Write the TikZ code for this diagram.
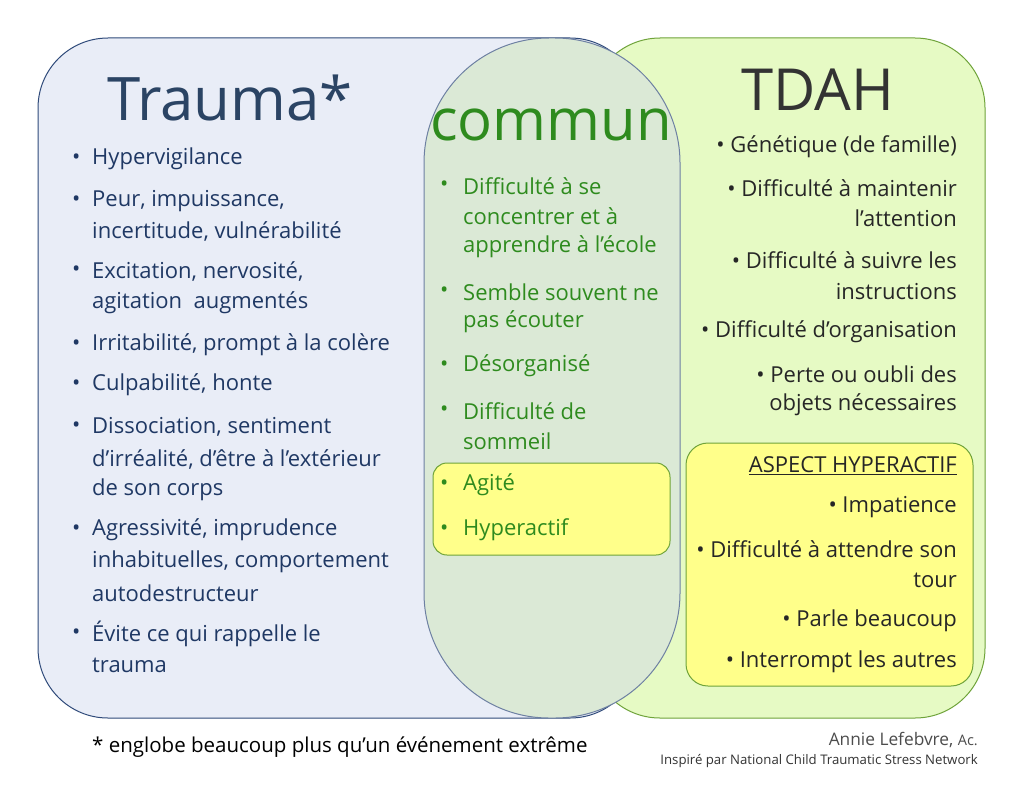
\documentclass[tikz,border=0pt]{standalone}
\usepackage{fontspec}
\setmainfont{Open Sans}
\definecolor{lbox}{HTML}{E9EDF7}
\definecolor{lborder}{HTML}{2F4A7A}
\definecolor{rbox}{HTML}{E6FAC4}
\definecolor{rborder}{HTML}{6FA33A}
\definecolor{mbox}{HTML}{DBE9D6}
\definecolor{ybox}{HTML}{FFFF8A}
\definecolor{ltext}{HTML}{1F3864}
\definecolor{mtext}{HTML}{2E8B1E}
\definecolor{ttl}{HTML}{2B4464}
\begin{document}
\begin{tikzpicture}[x=1pt,y=-1pt,
  lt/.style={font=\fontsize{22}{26}\selectfont,text=ltext,inner sep=0pt,anchor=west},
  mt/.style={font=\fontsize{22}{26}\selectfont,text=mtext,inner sep=0pt,anchor=west},
  rt/.style={font=\fontsize{22}{26}\selectfont,text=black!85,inner sep=0pt,anchor=east}]
\useasboundingbox[fill=white] (0,0) rectangle (1024,792);
\draw[lborder,fill=lbox,line width=1pt,rounded corners=70pt] (38,38) rectangle (640,718) node[coordinate](lbx){};
\draw[rborder,fill=rbox,line width=1pt,rounded corners=70pt] (590,38) rectangle (985,718) node[coordinate](rbx){};
\draw[lborder!70,fill=mbox,line width=1pt,rounded corners=125pt] (424,38) rectangle (680,718) node[coordinate](mbx){};
\draw[rborder,fill=ybox,line width=1pt,rounded corners=14pt] (433,463) rectangle (670,555) node[coordinate](ybx1){};
\draw[rborder,fill=ybox,line width=1pt,rounded corners=22pt] (686,443) rectangle (973,686) node[coordinate](ybx2){};
% titles
\node[font=\fontsize{60}{60}\selectfont,text=ttl,inner sep=0pt] (t1) at (230,98) {Trauma*};
\node[font=\fontsize{58}{58}\selectfont,text=mtext,inner sep=0pt] (t2) at (551,125) {commun};
\node[font=\fontsize{58}{58}\selectfont,text=black!80,inner sep=0pt] (t3) at (818,90) {TDAH};
% left
\foreach \y/\t [count=\i] in {159/Hypervigilance,201/{Peur, impuissance,},271/{Excitation, nervosité,},345/{Irritabilité, prompt à la colère},385/{Culpabilité, honte},427/{Dissociation, sentiment},530/{Agressivité, imprudence},634/{Évite ce qui rappelle le}}
  {\node[lt] (lb\i) at (72,\y) {•}; \node[lt] (l\i) at (92,\y) {\t};}
\foreach \y/\t [count=\i] in {231/{incertitude, vulnérabilité},303/{agitation\ \ augmentés},459/{d’irréalité, d’être à l’extérieur},490/{de son corps},562/{inhabituelles, comportement},593/{autodestructeur},665/{trauma}}
  {\node[lt] (lc\i) at (92,\y) {\t};}
% middle
\foreach \y/\t [count=\i] in {186/{Difficulté à se},292/{Semble souvent ne},366/{Désorganisé},411/{Difficulté de},485/{Agité},530/{Hyperactif}}
  {\node[mt] (mb\i) at (440,\y) {•}; \node[mt] (m\i) at (463,\y) {\t};}
\foreach \y/\t [count=\i] in {216/{concentrer et à},247/{apprendre à l’école},322/{pas écouter},441/{sommeil}}
  {\node[mt] (mc\i) at (463,\y) {\t};}
% right
\foreach \y/\t [count=\i] in {147/{• Génétique (de famille)},188/{• Difficulté à maintenir},218/{l’attention},260/{• Difficulté à suivre les},292/{instructions},332/{• Difficulté d’organisation},374/{• Perte ou oubli des},405/{objets nécessaires},466/{\underline{ASPECT HYPERACTIF}},507/{• Impatience},549/{• Difficulté à attendre son},580/{tour},621/{• Parle beaucoup},662/{• Interrompt les autres}}
  {\node[rt] (r\i) at (957,\y) {\t};}
% footer
\node[font=\fontsize{20.5}{24}\selectfont,inner sep=0pt,anchor=west] (f1) at (92,747) {* englobe beaucoup plus qu’un événement extrême};
\node[font=\fontsize{17.3}{20}\selectfont,text=black!70,inner sep=0pt,anchor=east] (f2) at (978,740) {Annie Lefebvre, {\fontsize{14.5}{16}\selectfont Ac.}};
\node[font=\fontsize{13.2}{16}\selectfont,text=black!80,inner sep=0pt,anchor=east] (f3) at (978,761) {Inspiré par National Child Traumatic Stress Network};
\end{tikzpicture}
\end{document}
